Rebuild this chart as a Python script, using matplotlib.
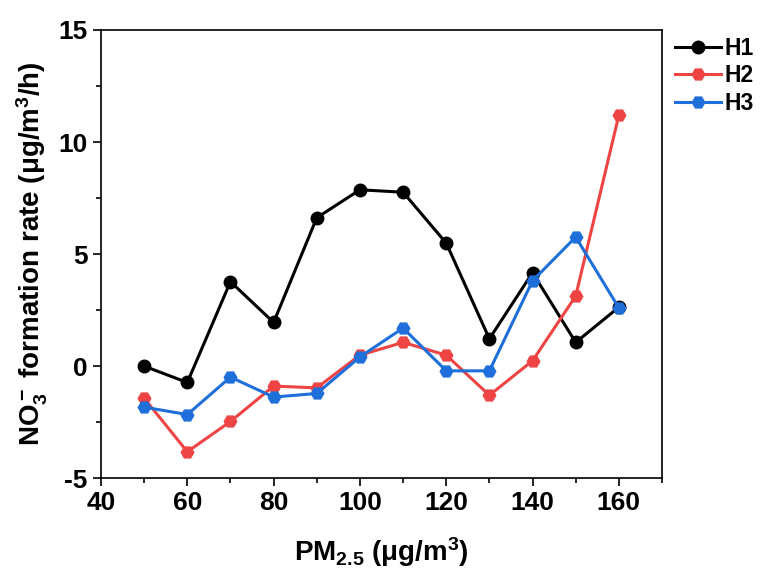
import matplotlib
matplotlib.use("Agg")
import matplotlib.pyplot as plt
from matplotlib.ticker import MultipleLocator

# データ
pm25 = [50, 60, 70, 80, 90, 100, 110, 120, 130, 140, 150, 160]
h1 = [0.0, -0.73, 3.77, 1.95, 6.62, 7.87, 7.76, 5.49, 1.22, 4.17, 1.06, 2.63]
h2 = [-1.43, -3.82, -2.47, -0.89, -0.97, 0.49, 1.06, 0.49, -1.30, 0.24, 3.13, 11.2]
h3 = [-1.83, -2.16, -0.49, -1.38, -1.22, 0.41, 1.70, -0.21, -0.21, 3.81, 5.76, 2.60]
series_names = ["H1", "H2", "H3"]

plt.rcParams['font.family'] = ['Liberation Sans', 'DejaVu Sans']
plt.rcParams['font.weight'] = 'bold'
plt.rcParams['axes.unicode_minus'] = False
plt.rcParams['mathtext.fontset'] = 'custom'
plt.rcParams['mathtext.rm'] = 'Liberation Sans:bold'
plt.rcParams['mathtext.it'] = 'Liberation Sans:bold'
plt.rcParams['mathtext.bf'] = 'Liberation Sans:bold'
plt.rcParams['mathtext.default'] = 'bf'

fig = plt.figure(figsize=(7.68, 5.72), dpi=100)
ax = fig.add_axes([0.1315, 0.164, 0.7305, 0.7836])

colors = ['black', '#EE4444', '#1F6FDB']
markers = ['o', 'H', 'H']
for ys, name, c, m in zip([h1, h2, h3], series_names, colors, markers):
    ax.plot(pm25, ys, color=c, marker=m, markersize=9, linewidth=2.2, label=name)

ax.set_xlim(40, 170)
ax.set_ylim(-5, 15)
ax.xaxis.set_major_locator(MultipleLocator(20))
ax.xaxis.set_minor_locator(MultipleLocator(10))
ax.yaxis.set_major_locator(MultipleLocator(5))
ax.yaxis.set_minor_locator(MultipleLocator(2.5))
ax.tick_params(which='major', direction='out', length=6, width=1.2, labelsize=19)
ax.tick_params(which='minor', direction='out', length=3.5, width=1.2)
for sp in ax.spines.values():
    sp.set_linewidth(1.2)

ax.set_xlabel(r'PM$_{2.5}$ ($\mathrm{\mu}$g/m$^3$)', fontsize=20, fontweight='bold', labelpad=14)
ax.set_ylabel(r'NO$_3^-$ formation rate ($\mathrm{\mu}$g/m$^3$/h)', fontsize=20, fontweight='bold', labelpad=6)

ax.legend(loc='upper left', bbox_to_anchor=(1.015, 0.995), frameon=False, fontsize=16.5,
          handlelength=2.0, handletextpad=0.15, labelspacing=0.2, borderaxespad=0.0,
          borderpad=0.2)

fig.savefig('out.png', dpi=100)
